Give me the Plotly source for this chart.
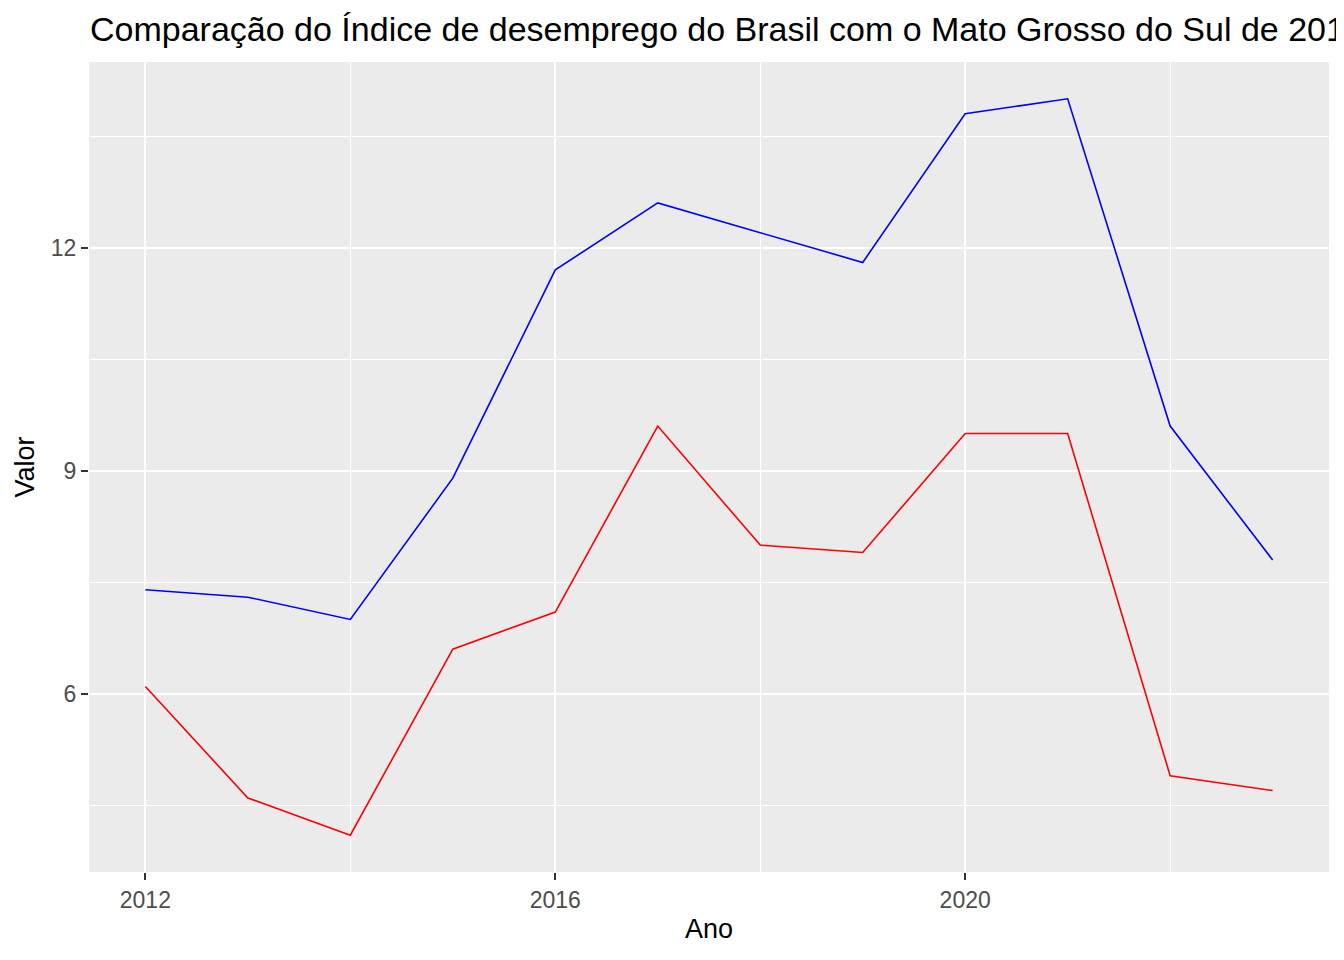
import plotly.graph_objects as go

anos = [2012, 2013, 2014, 2015, 2016, 2017, 2018, 2019, 2020, 2021, 2022, 2023]
brasil = [7.4, 7.3, 7.0, 8.9, 11.7, 12.6, 12.2, 11.8, 13.8, 14.0, 9.6, 7.8]
ms = [6.1, 4.6, 4.1, 6.6, 7.1, 9.6, 8.0, 7.9, 9.5, 9.5, 4.9, 4.7]

x_ticks = [2012, 2016, 2020]
x_minor = [2014, 2018, 2022]
y_ticks = [6, 9, 12]
y_minor = [4.5, 7.5, 10.5, 13.5]

titulo = "Comparação do Índice de desemprego do Brasil com o Mato Grosso do Sul de 2012 a 2023"

W, H = 1336, 952

fig = go.Figure()
fig.add_trace(go.Scatter(x=anos, y=brasil, mode="lines", name="Brasil",
                         line=dict(color="#0000FF", width=1.6)))
fig.add_trace(go.Scatter(x=anos, y=ms, mode="lines", name="Mato Grosso do Sul",
                         line=dict(color="#FF0000", width=1.6)))

font = "Liberation Sans, Arial, sans-serif"

fig.update_layout(
    width=W, height=H,
    margin=dict(l=81, r=15, t=54, b=88),
    paper_bgcolor="white", plot_bgcolor="#EBEBEB",
    showlegend=False,
    font=dict(family=font, color="black"),
    title=dict(text=titulo, x=82/W, xanchor="left", xref="container",
               y=1-21/H, yanchor="middle", yref="container",
               font=dict(size=34, family=font, color="black")),
)
fig.update_xaxes(
    range=[2011.45, 2023.55], tickmode="array", tickvals=x_ticks,
    ticktext=[str(v) for v in x_ticks],
    showgrid=True, gridcolor="white", gridwidth=2,
    minor=dict(tickmode="array", tickvals=x_minor, showgrid=True, gridcolor="white", gridwidth=1),
    ticks="outside", ticklen=7, tickwidth=2, tickcolor="#333333",
    tickfont=dict(size=23, color="#4D4D4D", family=font),
    zeroline=False, showline=False,
    title=dict(text="Ano", font=dict(size=27, color="black", family=font), standoff=7),
)
fig.update_yaxes(
    range=[3.605, 14.495], tickmode="array", tickvals=y_ticks,
    ticktext=[str(v) for v in y_ticks],
    showgrid=True, gridcolor="white", gridwidth=2,
    minor=dict(tickmode="array", tickvals=y_minor, showgrid=True, gridcolor="white", gridwidth=1),
    ticks="outside", ticklen=7, tickwidth=2, tickcolor="#333333",
    tickfont=dict(size=23, color="#4D4D4D", family=font),
    zeroline=False, showline=False,
    title=dict(text="Valor", font=dict(size=27, color="black", family=font), standoff=8),
)

fig.write_html("out.html")
